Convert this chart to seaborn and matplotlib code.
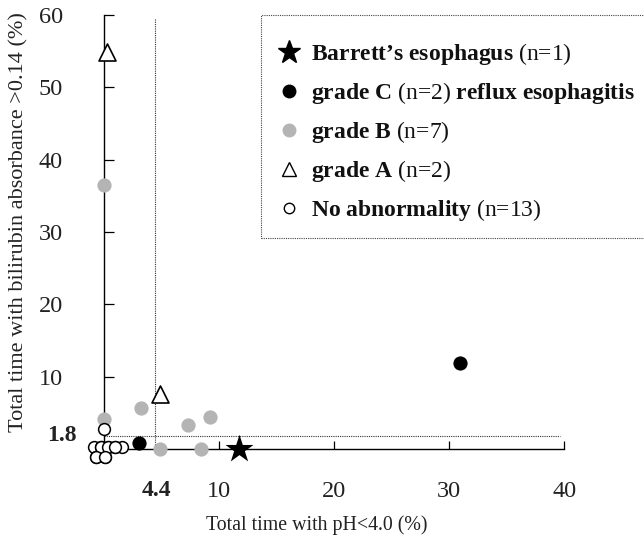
import matplotlib
matplotlib.use("Agg")
import matplotlib.pyplot as plt
import seaborn as sns
import pandas as pd
from matplotlib.lines import Line2D
from matplotlib.patches import Rectangle

# ---- data ----
barrett_x = [11.7]
barrett_y = [0.0]
gradeC_x = [3.0, 30.9]
gradeC_y = [0.8, 11.9]
gradeB_x = [0.0, 0.0, 3.2, 7.3, 9.2, 4.8, 8.4]
gradeB_y = [36.5, 4.2, 5.6, 3.3, 4.4, 0.0, 0.0]
gradeA_x = [0.2, 4.8]
gradeA_y = [54.9, 7.6]
normal_x = [0.0, -0.91, -0.3, 0.32, 0.94, 1.55, -0.7, 0.03, -0.3, 0.32, 0.94, -0.7, 0.03]
normal_y = [2.8, 0.3, 0.3, 0.3, 0.3, 0.3, -1.06, -1.06, 0.3, 0.3, 0.3, -1.06, -1.06]
ph_threshold = 4.4
bili_threshold = 1.8
x_ticks = [10, 20, 30, 40]
y_ticks = [10, 20, 30, 40, 50, 60]

legend_labels = [
    r"$\mathbf{Barrett’s\ esophagus}$ (n=1)",
    r"$\mathbf{grade\ C}$ (n=2) $\mathbf{reflux\ esophagitis}$",
    r"$\mathbf{grade\ B}$ (n=7)",
    r"$\mathbf{grade\ A}$ (n=2)",
    r"$\mathbf{No\ abnormality}$ (n=13)",
]

sns.set_theme(style="white")
plt.rcParams["font.family"] = ["Liberation Serif", "DejaVu Serif"]
plt.rcParams["mathtext.fontset"] = "custom"
plt.rcParams["mathtext.rm"] = "Liberation Serif"
plt.rcParams["mathtext.bf"] = "Liberation Serif:bold"
plt.rcParams["mathtext.it"] = "Liberation Serif:italic"

fig = plt.figure(figsize=(6.44, 5.44), dpi=100)
ax = fig.add_axes([0.1084, 0.1215, 0.8214, 0.8775])
ax.set_xlim(-3, 43)
ax.set_ylim(-4, 62)

GRAY = "#b4b4b4"

# reference lines
ax.vlines(ph_threshold, 0, 59.5, colors="#333333", linestyles=(0, (1, 1)), linewidth=0.8, zorder=1)
ax.hlines(bili_threshold, 0, 39.6, colors="#333333", linestyles=(0, (1, 1)), linewidth=0.8, zorder=1)

sns.scatterplot(x=gradeB_x, y=gradeB_y, marker="o", color=GRAY, edgecolor=GRAY,
                s=105, linewidth=0, ax=ax, legend=False, zorder=3)
sns.scatterplot(x=normal_x, y=normal_y, marker="o", color="white", edgecolor="black",
                s=72, linewidth=1.1, ax=ax, legend=False, zorder=4)
sns.scatterplot(x=gradeC_x, y=gradeC_y, marker="o", color="black", edgecolor="black",
                s=105, linewidth=0, ax=ax, legend=False, zorder=4)
sns.scatterplot(x=gradeA_x, y=gradeA_y, marker="^", color="white", edgecolor="black",
                s=150, linewidth=1.2, ax=ax, legend=False, zorder=4)
sns.scatterplot(x=barrett_x, y=barrett_y, marker="*", color="black", edgecolor="black",
                s=450, linewidth=0, ax=ax, legend=False, zorder=4)

# axes styling
for side in ["top", "right"]:
    ax.spines[side].set_visible(False)
ax.spines["left"].set_position(("data", 0))
ax.spines["bottom"].set_position(("data", 0))
ax.spines["left"].set_bounds(0, 60)
ax.spines["bottom"].set_bounds(0, 40)
for side in ["left", "bottom"]:
    ax.spines[side].set_color("black")
    ax.spines[side].set_linewidth(1.0)
    ax.spines[side].set_zorder(2)

ax.set_xticks(x_ticks)
ax.set_yticks(y_ticks)
ax.tick_params(axis="x", direction="in", length=6, width=0.9, color="black",
               labelsize=17.5, pad=23, bottom=True)
ax.tick_params(axis="y", direction="in", length=7, width=0.9, color="black",
               labelsize=17.5, pad=30, left=True)
for lab in ax.get_xticklabels() + ax.get_yticklabels():
    lab.set_color("#222222")

ax.text(-2.4, bili_threshold, f"{bili_threshold}", ha="right", va="center",
        fontsize=17, fontweight="bold", color="#222222")
ax.text(ph_threshold + 0.1, -5.8, f"{ph_threshold}", ha="center", va="center",
        fontsize=17, fontweight="bold", color="#222222")

ax.set_xlabel("Total time with pH<4.0 (%)", fontsize=14.3, color="#222222")
ax.set_ylabel("Total time with bilirubin absorbance >0.14 (%)", fontsize=16, color="#222222")
ax.xaxis.set_label_coords(0.467, -0.078)
ax.yaxis.set_label_coords(-0.079, 0.536)

# legend
handles = [
    Line2D([], [], linestyle="none", marker="*", markersize=17, color="black"),
    Line2D([], [], linestyle="none", marker="o", markersize=9, color="black"),
    Line2D([], [], linestyle="none", marker="o", markersize=9, color=GRAY, markeredgecolor=GRAY),
    Line2D([], [], linestyle="none", marker="^", markersize=10, markerfacecolor="white",
           markeredgecolor="black", markeredgewidth=1.0),
    Line2D([], [], linestyle="none", marker="o", markersize=7.5, markerfacecolor="white",
           markeredgecolor="black", markeredgewidth=1.0),
]
leg = ax.legend(handles, legend_labels, loc="upper left",
                bbox_to_anchor=(277.5 / 644, 1 - 41 / 544), bbox_transform=fig.transFigure,
                frameon=False, fontsize=17, handlelength=1.0, handletextpad=0.40,
                labelspacing=0.55, borderpad=0, borderaxespad=0)
for t in leg.get_texts():
    t.set_color("#111111")

fig.add_artist(Rectangle((261 / 644, 1 - 237.7 / 544), (660 - 261) / 644, (237.7 - 15) / 544,
                         transform=fig.transFigure, fill=False, edgecolor="#444444",
                         linewidth=0.8, linestyle=(0, (1, 1))))

fig.savefig("out.png", dpi=100)
